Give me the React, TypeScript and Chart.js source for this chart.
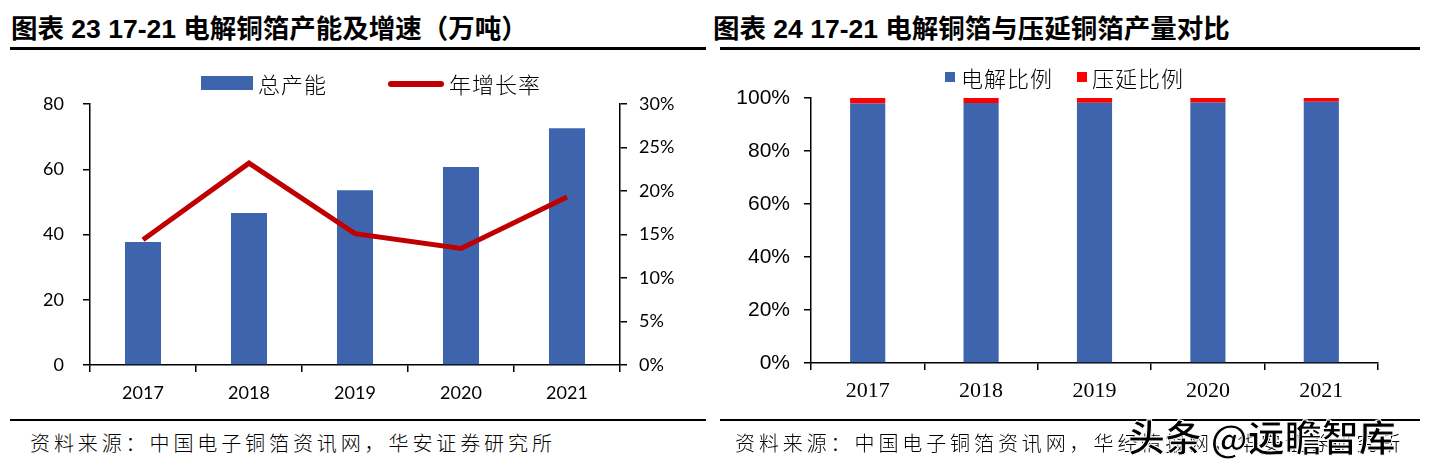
import React, { useEffect, useRef } from "react";
import { Chart, registerables } from "chart.js";

Chart.register(...registerables);

const years = ["2017", "2018", "2019", "2020", "2021"];
const capacity = [37.7, 46.6, 53.6, 60.7, 72.6];
const growthRate = [14.4, 23.2, 15.1, 13.4, 19.3];
const electrolyticShare = [97.9, 98.1, 98.2, 98.3, 98.6];
const rolledShare = [2.1, 1.9, 1.8, 1.7, 1.4];

const BLUE = "#3D64AD";
const DARKRED = "#C00000";
const RED = "#FF0000";
const CJK = '"Noto Sans CJK SC", sans-serif';

function LeftChart() {
  const ref = useRef<HTMLCanvasElement>(null);
  useEffect(() => {
    const chart = new Chart(ref.current!, {
      type: "bar",
      data: {
        labels: years,
        datasets: [
          {
            type: "line",
            label: "年增长率",
            data: growthRate,
            yAxisID: "y1",
            borderColor: DARKRED,
            backgroundColor: DARKRED,
            borderWidth: 5,
            pointRadius: 0,
            tension: 0,
            order: 0,
          } as any,
          {
            type: "bar",
            label: "总产能",
            data: capacity,
            yAxisID: "y",
            backgroundColor: BLUE,
            barPercentage: 0.34,
            categoryPercentage: 1,
            order: 1,
          },
        ],
      },
      options: {
        animation: false,
        responsive: false,
        maintainAspectRatio: false,
        layout: { padding: { top: 44, left: 0, right: 0, bottom: 0 } },
        plugins: { legend: { display: false }, tooltip: { enabled: false } },
        scales: {
          x: {
            grid: { drawOnChartArea: false, drawTicks: true, tickLength: 7, color: "#000", lineWidth: 1.5, offset: true },
            border: { display: true, color: "#000", width: 1.5 },
            ticks: { color: "#000", font: { family: "Lato", size: 18 }, padding: 10, maxRotation: 0 },
            afterFit: (s: any) => { s.height = 55; },
          },
          y: {
            position: "left",
            min: 0,
            max: 80,
            grid: { drawOnChartArea: false, drawTicks: true, tickLength: 7, color: "#000", lineWidth: 1.5 },
            border: { display: true, color: "#000", width: 1.5 },
            ticks: { stepSize: 20, color: "#000", font: { family: "Lato", size: 18 }, padding: 19 },
            afterFit: (s: any) => { s.width = 90; },
          },
          y1: {
            position: "right",
            min: 0,
            max: 30,
            grid: { drawOnChartArea: false, drawTicks: true, tickLength: 7, color: "#000", lineWidth: 1.5 },
            border: { display: true, color: "#000", width: 1.5 },
            ticks: { stepSize: 5, color: "#000", font: { family: "Lato", size: 18 }, padding: 12, callback: (v: any) => v + "%" },
            afterFit: (s: any) => { s.width = 80; },
          },
        },
      },
    });
    return () => chart.destroy();
  }, []);
  return <canvas ref={ref} width={700} height={360} style={{ position: "absolute", left: 0, top: 60, width: 700, height: 360 }} />;
}

function RightChart() {
  const ref = useRef<HTMLCanvasElement>(null);
  useEffect(() => {
    const chart = new Chart(ref.current!, {
      type: "bar",
      data: {
        labels: years,
        datasets: [
          { label: "电解比例", data: electrolyticShare, backgroundColor: BLUE, barPercentage: 0.31, categoryPercentage: 1 },
          { label: "压延比例", data: rolledShare, backgroundColor: RED, barPercentage: 0.31, categoryPercentage: 1 },
        ],
      },
      options: {
        animation: false,
        responsive: false,
        maintainAspectRatio: false,
        layout: { padding: { top: 38, left: 0, right: 60, bottom: 0 } },
        plugins: { legend: { display: false }, tooltip: { enabled: false } },
        scales: {
          x: {
            stacked: true,
            grid: { drawOnChartArea: false, drawTicks: true, tickLength: 7, color: "#000", lineWidth: 1.5, offset: true },
            border: { display: true, color: "#000", width: 1.5 },
            ticks: { color: "#000", font: { family: '"Liberation Serif"', size: 22 }, padding: 8, maxRotation: 0 },
            afterFit: (s: any) => { s.height = 57; },
          },
          y: {
            stacked: true,
            min: 0,
            max: 100,
            grid: { drawOnChartArea: false, drawTicks: true, tickLength: 7, color: "#000", lineWidth: 1.5 },
            border: { display: true, color: "#000", width: 1.5 },
            ticks: { stepSize: 20, color: "#000", font: { family: '"Liberation Sans"', size: 21 }, padding: 14, callback: (v: any) => v + "%" },
            afterFit: (s: any) => { s.width = 111; },
          },
        },
      },
    });
    return () => chart.destroy();
  }, []);
  return <canvas ref={ref} width={738} height={360} style={{ position: "absolute", left: 700, top: 60, width: 738, height: 360 }} />;
}

const abs = (s: React.CSSProperties): React.CSSProperties => ({ position: "absolute", ...s });

export default function App() {
  const titleFont: React.CSSProperties = {
    fontFamily: '"Liberation Sans", "Noto Sans CJK SC", sans-serif',
    fontWeight: 700,
    fontSize: 26.5,
    color: "#000",
    whiteSpace: "nowrap",
    lineHeight: "32px",
  };
  const legendFont: React.CSSProperties = { fontFamily: CJK, fontSize: 22, color: "#000", whiteSpace: "nowrap", lineHeight: "26px", letterSpacing: 1, fontWeight: 300 };
  const srcFont: React.CSSProperties = { fontFamily: CJK, fontSize: 20, color: "#000", whiteSpace: "nowrap", lineHeight: "26px", letterSpacing: 3.9, fontWeight: 300 };
  return (
    <div style={{ position: "relative", width: 1438, height: 469, margin: -8, background: "#fff", overflow: "hidden" }}>
      <div style={abs({ left: 11, top: 13, ...titleFont })}>图表 23 17-21 电解铜箔产能及增速（万吨）</div>
      <div style={abs({ left: 713, top: 13, ...titleFont })}>图表 24 17-21 电解铜箔与压延铜箔产量对比</div>
      <div style={abs({ left: 10, top: 47, width: 696, height: 3, background: "#000" })} />
      <div style={abs({ left: 720, top: 47, width: 700, height: 3, background: "#000" })} />

      <LeftChart />
      <RightChart />

      {/* left legend */}
      <div style={abs({ left: 201, top: 76, width: 52, height: 14, background: BLUE })} />
      <div style={abs({ left: 258, top: 70, ...legendFont })}>总产能</div>
      <div style={abs({ left: 388, top: 81, width: 56, height: 6, background: DARKRED, borderRadius: 3 })} />
      <div style={abs({ left: 449, top: 70, ...legendFont })}>年增长率</div>

      {/* right legend */}
      <div style={abs({ left: 945, top: 72, width: 10, height: 10, background: BLUE })} />
      <div style={abs({ left: 961, top: 64, ...legendFont })}>电解比例</div>
      <div style={abs({ left: 1077, top: 72, width: 10, height: 10, background: RED })} />
      <div style={abs({ left: 1092, top: 64, ...legendFont })}>压延比例</div>

      <div style={abs({ left: 10, top: 419, width: 696, height: 2, background: "#000" })} />
      <div style={abs({ left: 720, top: 419, width: 700, height: 2, background: "#000" })} />
      <div style={abs({ left: 30, top: 430, ...srcFont })}>资料来源：中国电子铜箔资讯网，华安证券研究所</div>
      <div style={abs({ left: 735, top: 430, ...srcFont })}>资料来源：中国电子铜箔资讯网，华经情报网，华安证券研究所</div>
      <div
        style={abs({
          left: 1128,
          top: 415,
          fontFamily: CJK,
          fontSize: 37,
          fontWeight: 700,
          color: "#000",
          whiteSpace: "nowrap",
          lineHeight: "42px",
          WebkitTextStroke: "1px #fff",
        } as React.CSSProperties)}
      >
        头条 @远瞻智库
      </div>
    </div>
  );
}
